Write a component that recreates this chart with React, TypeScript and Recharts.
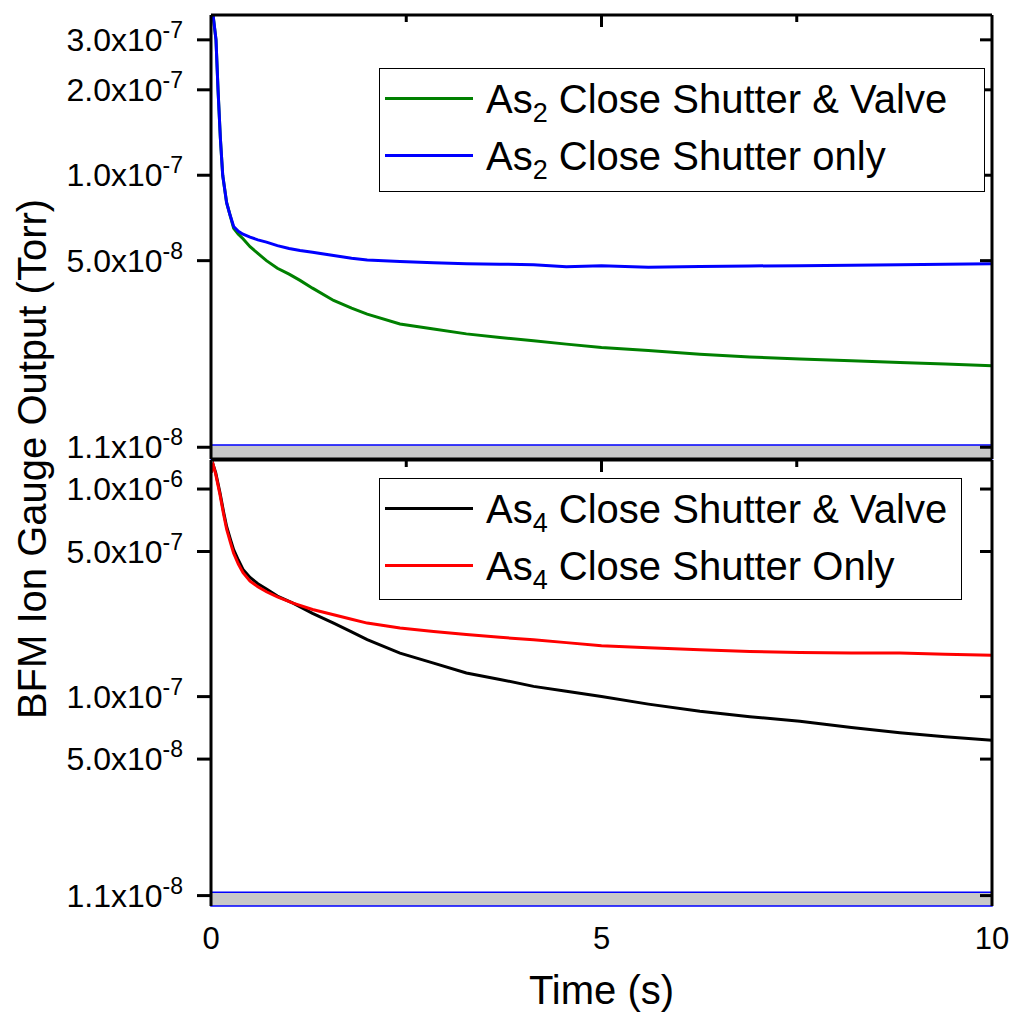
import { LineChart, Line, XAxis, YAxis, ReferenceArea, Legend } from "recharts";

// time (s) for the As2 panel
const timeTop = [
  0, 0.03, 0.064, 0.09, 0.12, 0.15, 0.2, 0.24, 0.29, 0.35, 0.41, 0.5, 0.6, 0.71, 0.85, 1.0,
  1.14, 1.3, 1.57, 1.8, 2.0, 2.42, 2.85, 3.27, 3.7, 4.13, 4.55, 5.0, 5.6, 6.26, 6.9, 7.54,
  8.2, 8.82, 9.4, 10,
];
const as2ShutterValve = [
  3.55e-7, 3.6e-7, 3.0e-7, 2.0e-7, 1.35e-7, 1.0e-7, 8.0e-8, 7.3e-8, 6.5e-8, 6.2e-8, 5.97e-8,
  5.6e-8, 5.3e-8, 5.0e-8, 4.7e-8, 4.48e-8, 4.26e-8, 4.0e-8, 3.62e-8, 3.4e-8, 3.24e-8, 2.99e-8,
  2.87e-8, 2.76e-8, 2.68e-8, 2.61e-8, 2.54e-8, 2.47e-8, 2.41e-8, 2.34e-8, 2.29e-8, 2.25e-8,
  2.22e-8, 2.19e-8, 2.16e-8, 2.13e-8,
];
const as2ShutterOnly = [
  3.55e-7, 3.6e-7, 3.0e-7, 2.0e-7, 1.35e-7, 1.0e-7, 8.0e-8, 7.3e-8, 6.6e-8, 6.35e-8, 6.2e-8,
  6.05e-8, 5.92e-8, 5.81e-8, 5.65e-8, 5.52e-8, 5.43e-8, 5.35e-8, 5.21e-8, 5.1e-8, 5.03e-8,
  4.97e-8, 4.92e-8, 4.88e-8, 4.86e-8, 4.84e-8, 4.76e-8, 4.8e-8, 4.74e-8, 4.77e-8, 4.79e-8,
  4.8e-8, 4.82e-8, 4.84e-8, 4.86e-8, 4.88e-8,
];

// time (s) for the As4 panel
const timeBottom = [
  0, 0.03, 0.06, 0.115, 0.16, 0.2, 0.25, 0.29, 0.35, 0.41, 0.5, 0.6, 0.71, 0.85, 1.05, 1.3,
  1.57, 1.8, 2.0, 2.42, 2.85, 3.27, 3.7, 4.13, 4.55, 5.0, 5.6, 6.26, 6.9, 7.54, 8.2, 8.82,
  9.4, 10,
];
const as4ShutterValve = [
  1.2e-6, 1.3e-6, 1.2e-6, 9.6e-7, 7.8e-7, 6.6e-7, 5.7e-7, 5.1e-7, 4.55e-7, 4.1e-7, 3.75e-7,
  3.5e-7, 3.3e-7, 3.05e-7, 2.82e-7, 2.52e-7, 2.26e-7, 2.05e-7, 1.88e-7, 1.62e-7, 1.45e-7,
  1.3e-7, 1.21e-7, 1.12e-7, 1.06e-7, 1.0e-7, 9.2e-8, 8.5e-8, 8.0e-8, 7.6e-8, 7.1e-8, 6.7e-8,
  6.4e-8, 6.17e-8,
];
const as4ShutterOnly = [
  1.2e-6, 1.3e-6, 1.18e-6, 9.4e-7, 7.6e-7, 6.4e-7, 5.5e-7, 4.9e-7, 4.35e-7, 3.95e-7, 3.6e-7,
  3.38e-7, 3.2e-7, 3.02e-7, 2.82e-7, 2.63e-7, 2.48e-7, 2.36e-7, 2.26e-7, 2.14e-7, 2.06e-7,
  1.99e-7, 1.93e-7, 1.88e-7, 1.82e-7, 1.76e-7, 1.72e-7, 1.68e-7, 1.65e-7, 1.63e-7, 1.62e-7,
  1.62e-7, 1.6e-7, 1.58e-7,
];

const topTicks = [1.1e-8, 5e-8, 1e-7, 2e-7, 3e-7];
const bottomTicks = [1.1e-8, 5e-8, 1e-7, 5e-7, 1e-6];
const timeTicks = [0, 5, 10];
const majorTopTicks = [5];
const minorTimeTicks = [2.5, 7.5];
const topDomain = [1e-8, 3.67e-7];
const bottomDomain = [9.8e-9, 1.38e-6];
const topBand = [1e-8, 1.12e-8];
const bottomBand = [9.8e-9, 1.14e-8];

const topData = timeTop.map((t, i) => ({ t, valve: as2ShutterValve[i], only: as2ShutterOnly[i] }));
const bottomData = timeBottom.map((t, i) => ({ t, valve: as4ShutterValve[i], only: as4ShutterOnly[i] }));

const FONT = "'Liberation Sans', Arial, sans-serif";

function SciTick(props: any) {
  const { x, y, payload } = props;
  const v = payload.value;
  const exp = Math.floor(Math.log10(v) + 1e-9);
  const mant = (v / Math.pow(10, exp)).toFixed(1);
  return (
    <text x={x - 14} y={y} dy={11} textAnchor="end" fontFamily={FONT} fontSize={32} fill="#000">
      {mant}x10
      <tspan dy={-13} fontSize={23}>{exp}</tspan>
    </text>
  );
}

function TimeTick(props: any) {
  const { x, y, payload } = props;
  return (
    <text x={x} y={y} dy={43} textAnchor="middle" fontFamily={FONT} fontSize={31} fill="#000">
      {payload.value}
    </text>
  );
}

// keeps the tick line, draws no label
function NoLabel() {
  return null;
}

function LegendBox({ payload, width, height }: any) {
  return (
    <div
      style={{
        width,
        height,
        boxSizing: "border-box",
        border: "1.5px solid #000",
        background: "#fff",
        fontFamily: FONT,
        fontSize: 40,
        paddingTop: 1,
      }}
    >
      {(payload || []).map((p: any) => {
        const m = /^As(\d)(.*)$/.exec(p.value) || ["", "", p.value];
        return (
          <div key={p.value} style={{ height: 57, display: "flex", alignItems: "center", whiteSpace: "nowrap" }}>
            <div style={{ width: 88, height: 3, background: p.color, marginLeft: 5, marginRight: 13 }} />
            <span style={{ lineHeight: 1 }}>
              As<sub style={{ fontSize: 27, verticalAlign: -9, lineHeight: 0 }}>{m[1]}</sub>
              {m[2]}
            </span>
          </div>
        );
      })}
    </div>
  );
}

function YTitle() {
  return (
    <text x={46} y={459} transform="rotate(-90 46 459)" textAnchor="middle" fontFamily={FONT} fontSize={40} fill="#000">
      BFM Ion Gauge Output (Torr)
    </text>
  );
}

function XTitle(props: any) {
  const vb = props.viewBox || { x: 211, width: 781 };
  return (
    <text x={vb.x + vb.width / 2} y={1004} textAnchor="middle" fontFamily={FONT} fontSize={40} fill="#000">
      Time (s)
    </text>
  );
}

const axisLine = { stroke: "#000", strokeWidth: 3 };
const tickLine = { stroke: "#000", strokeWidth: 3 };

function FrameTop() {
  return null;
}

export default function App() {
  return (
    <div style={{ position: "absolute", left: 0, top: 0, width: 1015, height: 1015, background: "#fff" }}>
      <div style={{ position: "absolute", left: 0, top: 0 }}>
        <LineChart width={1015} height={1015} data={topData} margin={{ top: 15, right: 23, bottom: 555, left: 0 }}>
          <XAxis xAxisId="x" dataKey="t" type="number" domain={[0, 10]} ticks={timeTicks} allowDataOverflow
            height={1} tick={false} tickLine={false} axisLine={axisLine} />
          <XAxis xAxisId="topMajor" dataKey="t" orientation="top" mirror type="number" domain={[0, 10]}
            ticks={majorTopTicks} allowDataOverflow height={1} tick={<NoLabel />} tickSize={12}
            tickLine={tickLine} axisLine={axisLine} />
          <XAxis xAxisId="topMinor" dataKey="t" orientation="top" mirror type="number" domain={[0, 10]}
            ticks={minorTimeTicks} allowDataOverflow height={1} tick={<NoLabel />} tickSize={6}
            tickLine={tickLine} axisLine={false} />
          <YAxis yAxisId="y" type="number" scale="log" domain={topDomain} ticks={topTicks} allowDataOverflow
            width={211} tickSize={14} tickMargin={0} tick={<SciTick />} tickLine={tickLine} axisLine={axisLine} />
          <YAxis yAxisId="right" orientation="right" mirror type="number" scale="log" domain={topDomain}
            ticks={topTicks} allowDataOverflow tick={<NoLabel />} tickSize={12} tickLine={tickLine} axisLine={axisLine} />
          <ReferenceArea xAxisId="x" yAxisId="y" x1={0} x2={10} y1={topBand[0]} y2={topBand[1]}
            fill="#c8c8c8" fillOpacity={1} stroke="#0000ff" strokeWidth={1.5} ifOverflow="visible" />
          <Line xAxisId="x" yAxisId="y" dataKey="valve" name="As2 Close Shutter & Valve" stroke="#008000"
            strokeWidth={3} dot={false} isAnimationActive={false} />
          <Line xAxisId="x" yAxisId="y" dataKey="only" name="As2 Close Shutter only" stroke="#0000ff"
            strokeWidth={3} dot={false} isAnimationActive={false} />
          <Legend layout="vertical" align="center" verticalAlign="middle"
            wrapperStyle={{ left: 379, top: 68, width: 606, height: 124 }}
            content={(p: any) => <LegendBox payload={p.payload} width={606} height={124} />} />
        </LineChart>
      </div>
      <div style={{ position: "absolute", left: 0, top: 0 }}>
        <LineChart width={1015} height={1015} data={bottomData} margin={{ top: 460, right: 23, bottom: 0, left: 0 }}>
          <XAxis xAxisId="x" dataKey="t" type="number" domain={[0, 10]} ticks={timeTicks} allowDataOverflow
            height={109} tickSize={0} tickMargin={0} tick={<TimeTick />} tickLine={false} axisLine={false}
            label={<XTitle />} />
          <XAxis xAxisId="topMajor" dataKey="t" orientation="top" mirror type="number" domain={[0, 10]}
            ticks={majorTopTicks} allowDataOverflow height={1} tick={<NoLabel />} tickSize={12}
            tickLine={tickLine} axisLine={axisLine} />
          <XAxis xAxisId="topMinor" dataKey="t" orientation="top" mirror type="number" domain={[0, 10]}
            ticks={minorTimeTicks} allowDataOverflow height={1} tick={<NoLabel />} tickSize={6}
            tickLine={tickLine} axisLine={false} />
          <YAxis yAxisId="y" type="number" scale="log" domain={bottomDomain} ticks={bottomTicks} allowDataOverflow
            width={211} tickSize={14} tickMargin={0} tick={<SciTick />} tickLine={tickLine} axisLine={axisLine}
            label={<YTitle />} />
          <YAxis yAxisId="right" orientation="right" mirror type="number" scale="log" domain={bottomDomain}
            ticks={bottomTicks} allowDataOverflow tick={<NoLabel />} tickSize={12} tickLine={tickLine} axisLine={axisLine} />
          <Line xAxisId="x" yAxisId="y" dataKey="valve" name="As4 Close Shutter & Valve" stroke="#000000"
            strokeWidth={3} dot={false} isAnimationActive={false} />
          <Line xAxisId="x" yAxisId="y" dataKey="only" name="As4 Close Shutter Only" stroke="#ff0000"
            strokeWidth={3} dot={false} isAnimationActive={false} />
          <ReferenceArea xAxisId="x" yAxisId="y" x1={0} x2={10} y1={bottomBand[0]} y2={bottomBand[1]}
            fill="#c8c8c8" fillOpacity={1} stroke="#0000ff" strokeWidth={1.5} ifOverflow="visible" />
          <Legend layout="vertical" align="center" verticalAlign="middle"
            wrapperStyle={{ left: 379, top: 478, width: 583, height: 122 }}
            content={(p: any) => <LegendBox payload={p.payload} width={583} height={122} />} />
        </LineChart>
      </div>
    </div>
  );
}
